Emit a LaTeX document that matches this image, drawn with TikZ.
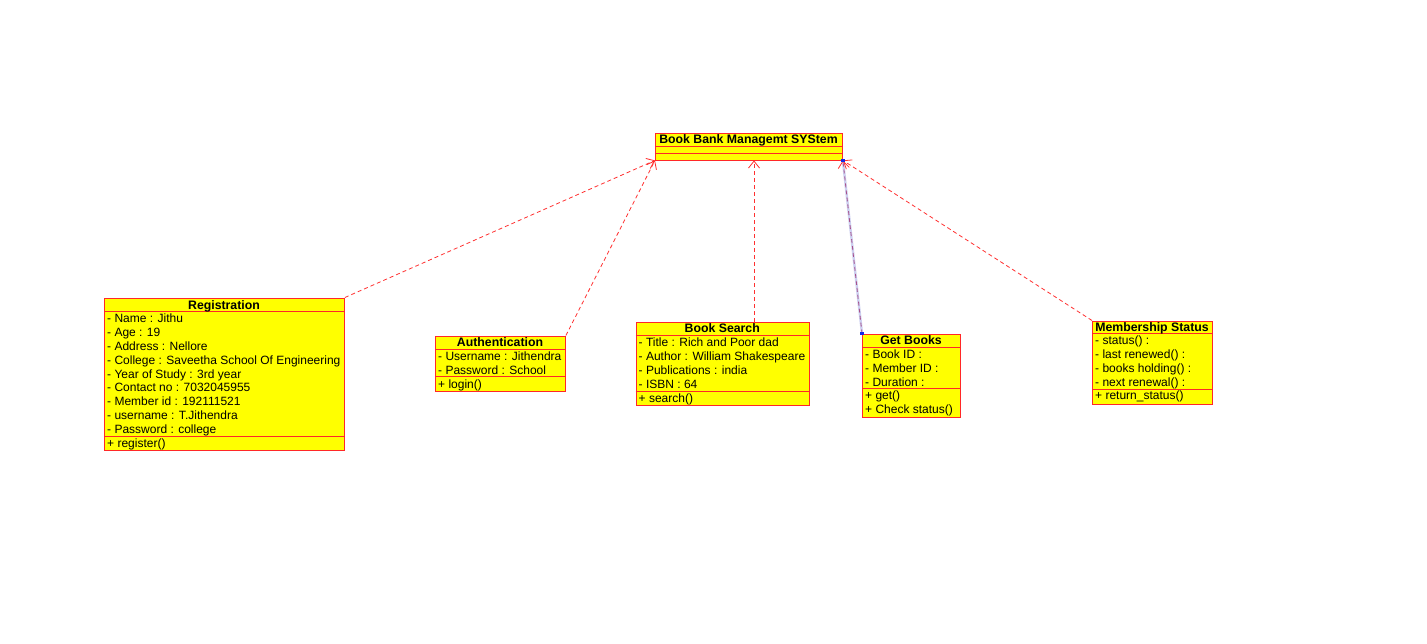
\documentclass[tikz,border=0pt]{standalone}
\usepackage{fontspec}
\setmainfont{Liberation Sans}
\usetikzlibrary{arrows.meta}

\definecolor{classfill}{HTML}{FFFF00}
\definecolor{classline}{HTML}{FF2828}
\definecolor{deplink}{HTML}{FF3030}
\definecolor{sellink}{HTML}{A8508A}
\definecolor{selhalo}{HTML}{CDD0F0}
\definecolor{handle}{HTML}{1428E6}

\tikzset{
  classbox/.style={draw=classline, fill=classfill, line width=0.9pt, inner sep=0pt, anchor=north west},
  sepline/.style={draw=classline, line width=0.9pt},
  ctitle/.style={font=\fontsize{12.3}{14}\selectfont\bfseries, anchor=base, inner sep=0pt},
  crow/.style={font=\fontsize{12}{14}\selectfont, anchor=base west, inner sep=0pt},
  dep/.style={draw=deplink, line width=0.8pt, dash pattern=on 4pt off 3pt,
    -{Straight Barb[length=7pt,width=11pt,line width=0.8pt]}},
  seldep/.style={draw=sellink, line width=0.8pt, dash pattern=on 4pt off 3pt,
    -{Straight Barb[length=7pt,width=11pt,line width=0.8pt,color=deplink]}},
}

\begin{document}
\begin{tikzpicture}[x=1pt,y=-1pt]
\useasboundingbox[fill=white] (0,0) rectangle (1427,643);

% ---------- Book Bank Managemt SYStem ----------
\node[classbox, minimum width=187pt, minimum height=27pt] (bb) at (655,132.5) {};
\draw[sepline] ([yshift=-13.5pt]bb.north west) -- ([yshift=-13.5pt]bb.north east);
\draw[sepline] ([yshift=-20.5pt]bb.north west) -- ([yshift=-20.5pt]bb.north east);
\node[ctitle] (bb-t) at (748.5,143.5) {Book Bank Managemt SYStem};

% ---------- Registration ----------
\node[classbox, minimum width=240pt, minimum height=152.5pt] (reg) at (104,297.5) {};
\draw[sepline] ([yshift=-14pt]reg.north west) -- ([yshift=-14pt]reg.north east);
\draw[sepline] ([yshift=-138.5pt]reg.north west) -- ([yshift=-138.5pt]reg.north east);
\node[ctitle] (reg-t) at (224,309) {Registration};
\foreach \txt [count=\i] in {- Name : Jithu, - Age : 19, - Address : Nellore,
    - College : Saveetha School Of Engineering, - Year of Study : 3rd year,
    - Contact no : 7032045955, - Member id : 192111521, - username : T.Jithendra,
    - Password : college}
  \node[crow] (reg-a\i) at (107, {311.5+4.4+(\i-0.5)*13.83}) {\txt};
\node[crow] (reg-o1) at (107,447.4) {+ register()};

% ---------- Authentication ----------
\node[classbox, minimum width=130pt, minimum height=55.5pt] (auth) at (435,335.5) {};
\draw[sepline] ([yshift=-14pt]auth.north west) -- ([yshift=-14pt]auth.north east);
\draw[sepline] ([yshift=-41pt]auth.north west) -- ([yshift=-41pt]auth.north east);
\node[ctitle] (auth-t) at (500,346.8) {Authentication};
\foreach \txt [count=\i] in {- Username : Jithendra, - Password : School}
  \node[crow] (auth-a\i) at (438, {349.5+4.4+(\i-0.5)*13.5}) {\txt};
\node[crow] (auth-o1) at (438,388.2) {+ login()};

% ---------- Book Search ----------
\node[classbox, minimum width=173.5pt, minimum height=83pt] (bs) at (635.5,321.5) {};
\draw[sepline] ([yshift=-14pt]bs.north west) -- ([yshift=-14pt]bs.north east);
\draw[sepline] ([yshift=-69.5pt]bs.north west) -- ([yshift=-69.5pt]bs.north east);
\node[ctitle] (bs-t) at (722.25,332.5) {Book Search};
\foreach \txt [count=\i] in {- Title : Rich and Poor dad, - Author : William Shakespeare,
    - Publications : india, - ISBN : 64}
  \node[crow] (bs-a\i) at (638.5, {335.5+4.4+(\i-0.5)*13.875}) {\txt};
\node[crow] (bs-o1) at (638.5,402) {+ search()};

% ---------- Get Books ----------
\node[classbox, minimum width=98pt, minimum height=83.5pt] (gb) at (862,333.5) {};
\draw[sepline] ([yshift=-14pt]gb.north west) -- ([yshift=-14pt]gb.north east);
\draw[sepline] ([yshift=-55pt]gb.north west) -- ([yshift=-55pt]gb.north east);
\node[ctitle] (gb-t) at (911,344.5) {Get Books};
\foreach \txt [count=\i] in {- Book ID :, - Member ID :, - Duration :}
  \node[crow] (gb-a\i) at (865, {347.5+4.4+(\i-0.5)*13.67}) {\txt};
\node[crow] (gb-o1) at (865,399) {+ get()};
\node[crow] (gb-o2) at (865,413.8) {+ Check status()};

% ---------- Membership Status ----------
\node[classbox, minimum width=120pt, minimum height=83pt] (ms) at (1092,320.5) {};
\draw[sepline] ([yshift=-13pt]ms.north west) -- ([yshift=-13pt]ms.north east);
\draw[sepline] ([yshift=-69pt]ms.north west) -- ([yshift=-69pt]ms.north east);
\node[ctitle] (ms-t) at (1152,331.2) {Membership Status};
\foreach \txt [count=\i] in {- status() :, - last renewed() :, - books holding() :, - next renewal() :}
  \node[crow] (ms-a\i) at (1095, {333.5+4.4+(\i-0.5)*14}) {\txt};
\node[crow] (ms-o1) at (1095,399.5) {+ return\_status()};

% ---------- dependencies ----------
\coordinate (bsx) at (754,0);
\draw[dep] (reg.north east) -- (bb.south west);
\draw[dep] (auth.north east) -- (bb.south west);
\draw[dep] (bsx |- bs.north) -- (bsx |- bb.south);
\draw[selhalo, line width=2.4pt] (gb.north west) -- (bb.south east);
\draw[seldep] (gb.north west) -- (bb.south east);
\draw[dep] (ms.north west) -- (bb.south east);
\fill[handle] ([xshift=-1.6pt,yshift=-1.6pt]gb.north west) rectangle ([xshift=1.6pt,yshift=1.6pt]gb.north west);
\fill[handle] ([xshift=-1.6pt,yshift=-1.6pt]bb.south east) rectangle ([xshift=1.6pt,yshift=1.6pt]bb.south east);
\end{tikzpicture}
\end{document}
